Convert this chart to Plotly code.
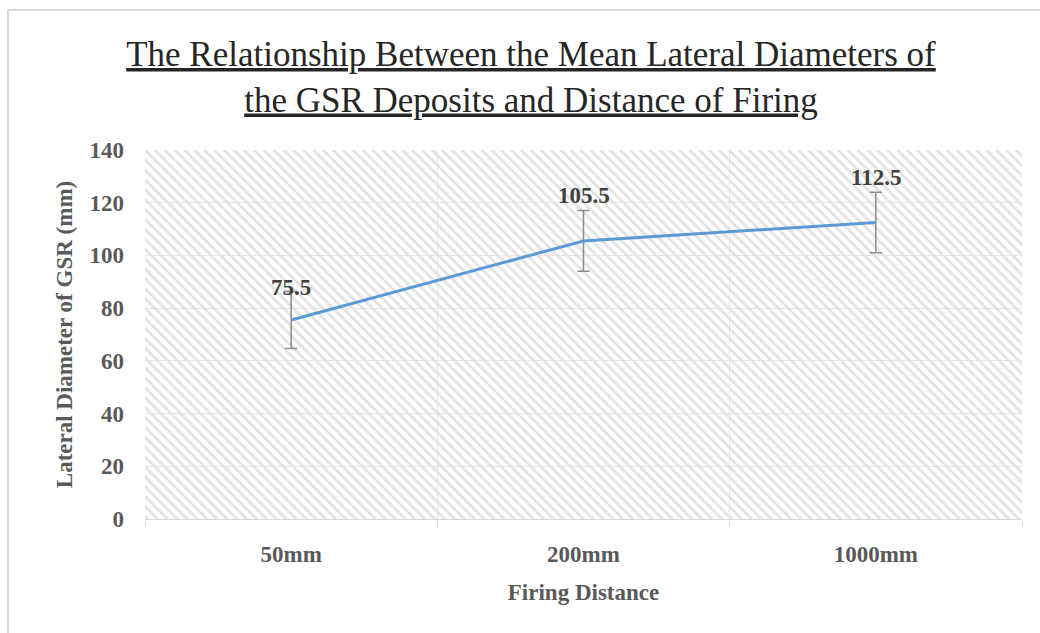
import plotly.graph_objects as go

categories = ["50mm", "200mm", "1000mm"]
mean_diameter = [75.5, 105.5, 112.5]
error_values = [10.8, 11.5, 11.5]
label_shift = [33, 45, 45]
y_max = 140
y_ticks = [0, 20, 40, 60, 80, 100, 120, 140]

title_text = ("<u>The Relationship Between the Mean Lateral Diameters of</u><br>"
              "<u>the GSR Deposits and Distance of Firing</u>")

SERIF = "Liberation Serif"
GREY_TXT = "#595959"

fig = go.Figure()

# hatched plot-area background
fig.add_trace(go.Bar(
    x=categories, y=[y_max] * len(categories), width=1,
    marker=dict(color="#e2e2e2", line=dict(width=0),
                pattern=dict(shape="\\", size=7, solidity=0.4, fillmode="replace")),
    hoverinfo="skip", showlegend=False,
))

fig.add_trace(go.Scatter(
    x=categories, y=mean_diameter, mode="lines",
    line=dict(color="#5b9bd5", width=3),
    error_y=dict(type="data", array=error_values, color="#8c8c8c", thickness=1.5, width=6),
    showlegend=False,
))

for c, v, s in zip(categories, mean_diameter, label_shift):
    fig.add_annotation(x=c, y=v, text=f"<b>{v}</b>", showarrow=False, yshift=s,
                       font=dict(family=SERIF, size=23, color="#404040"))

# outer chart border (top and left)
fig.add_shape(type="line", xref="paper", yref="paper", x0=(8 - 145) / 877, x1=(1040 - 145) / 877,
              y0=(519 - 10) / 369, y1=(519 - 10) / 369, line=dict(color="#d9d9d9", width=2))
fig.add_shape(type="line", xref="paper", yref="paper", x0=(8 - 145) / 877, x1=(8 - 145) / 877,
              y0=(519 - 10) / 369, y1=(519 - 640) / 369, line=dict(color="#d9d9d9", width=2))

fig.update_layout(
    width=1040, height=633,
    margin=dict(l=145, r=18, t=150, b=114),
    paper_bgcolor="white", plot_bgcolor="white",
    bargap=0,
    title=dict(text=title_text, x=531 / 1040, xanchor="center", xref="container",
               y=1 - 66 / 633, yanchor="middle", yref="container",
               font=dict(family=SERIF, size=35, color="#262626")),
    xaxis=dict(
        type="category", tickson="boundaries", ticks="outside", ticklen=6,
        tickcolor="#d9d9d9", showgrid=True, gridcolor="#e6e6e6", gridwidth=1,
        showline=True, linecolor="#d9d9d9", linewidth=1,
        ticklabelstandoff=14,
        tickfont=dict(family=SERIF, size=23, color=GREY_TXT, weight="bold"),
        title=dict(text="<b>Firing Distance</b>", standoff=18,
                   font=dict(family=SERIF, size=23, color=GREY_TXT)),
        range=[-0.5, 2.5],
    ),
    yaxis=dict(
        range=[0, y_max], tickvals=y_ticks, ticktext=[f"<b>{t}</b>" for t in y_ticks],
        showgrid=True, gridcolor="#e6e6e6",
        zeroline=False, showline=False, ticks="",
        ticklabelstandoff=20,
        tickfont=dict(family=SERIF, size=23, color=GREY_TXT, weight="bold"),
        title=dict(text="<b>Lateral Diameter of GSR (mm)</b>", standoff=10,
                   font=dict(family=SERIF, size=23, color=GREY_TXT)),
    ),
)

fig.write_html("out.html")
